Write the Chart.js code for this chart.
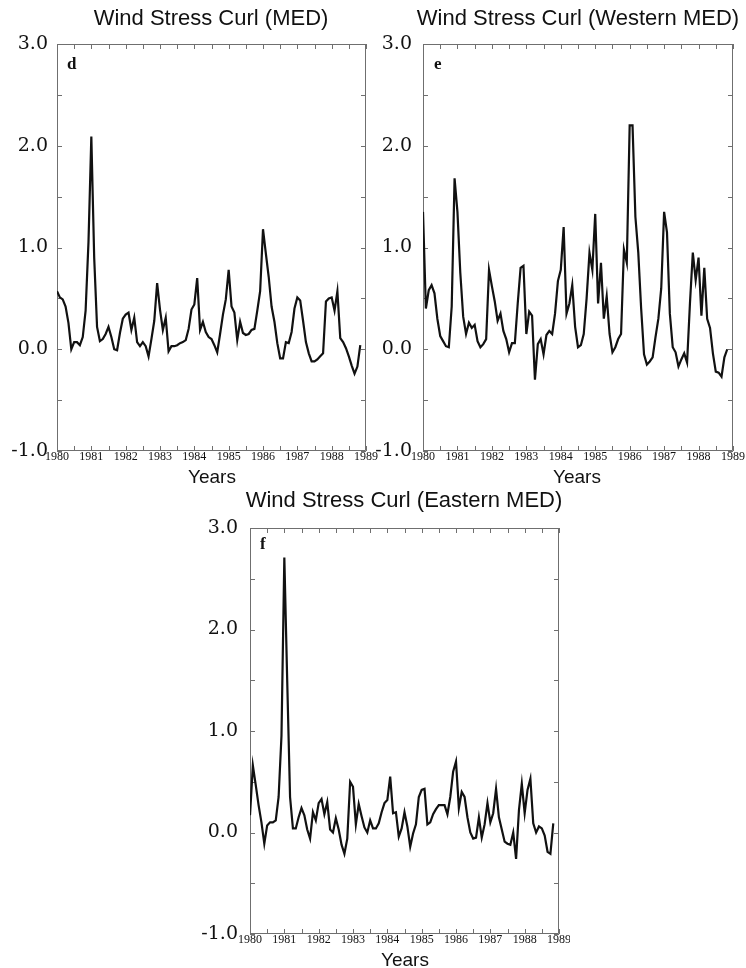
<!DOCTYPE html>
<html>
<head>
<meta charset="utf-8">
<script src="https://cdn.jsdelivr.net/npm/chart.js@4.4.1/dist/chart.umd.min.js"></script>
<style>
  html, body { margin:0; padding:0; background:#fff; }
  body { width:746px; height:968px; position:relative; overflow:hidden; }
  .cv { position:absolute; }
  .title { position:absolute; font-family:"Liberation Sans", Arial, sans-serif; font-size:22px; color:#111; white-space:nowrap; transform:translateX(-50%); line-height:1; }
  .xt { position:absolute; font-family:"Liberation Sans", Arial, sans-serif; font-size:19px; color:#111; white-space:nowrap; transform:translateX(-50%); line-height:1; }
  .lbl { position:absolute; font-family:"Liberation Serif", "Times New Roman", serif; font-weight:bold; font-size:17px; color:#111; line-height:1; }
</style>
</head>
<body>
<canvas id="cd" class="cv" style="left:0px;top:0px;width:380px;height:480px" width="380" height="480"></canvas>
<canvas id="ce" class="cv" style="left:370px;top:0px;width:376px;height:480px" width="376" height="480"></canvas>
<canvas id="cf" class="cv" style="left:190px;top:480px;width:380px;height:488px" width="380" height="488"></canvas>

<div class="title" style="left:211px;top:7px">Wind Stress Curl (MED)</div>
<div class="title" style="left:578px;top:7px">Wind Stress Curl (Western MED)</div>
<div class="title" style="left:404px;top:489px">Wind Stress Curl (Eastern MED)</div>
<div class="xt" style="left:212px;top:467px">Years</div>
<div class="xt" style="left:577px;top:467px">Years</div>
<div class="xt" style="left:405px;top:950px">Years</div>
<div class="lbl" style="left:67px;top:55px">d</div>
<div class="lbl" style="left:434px;top:55px">e</div>
<div class="lbl" style="left:260px;top:535px">f</div>

<script>
// Monthly time axis, Jan 1980 .. Nov 1988
const startYear = 1980;
const nMonths = 107;
const months = Array.from({length: nMonths}, (_, i) => startYear + i / 12);

const yearTicks = [1980, 1981, 1982, 1983, 1984, 1985, 1986, 1987, 1988, 1989];
const valueTicks = [-1.0, 0.0, 1.0, 2.0, 3.0];

// (d) Wind Stress Curl (MED)
const medValues = [
  0.57, 0.51, 0.49, 0.42, 0.26, 0.00, 0.07, 0.07, 0.04, 0.12, 0.38, 1.05,
  2.09, 0.90, 0.22, 0.08, 0.10, 0.15, 0.22, 0.12, 0.00, -0.01, 0.16, 0.30,
  0.34, 0.36, 0.19, 0.31, 0.07, 0.03, 0.07, 0.03, -0.07, 0.10, 0.28, 0.65,
  0.39, 0.19, 0.31, -0.02, 0.03, 0.03, 0.04, 0.06, 0.07, 0.09, 0.20, 0.39,
  0.44, 0.70, 0.19, 0.27, 0.17, 0.12, 0.10, 0.04, -0.03, 0.15, 0.34, 0.49,
  0.78, 0.42, 0.36, 0.09, 0.27, 0.16, 0.14, 0.15, 0.19, 0.20, 0.38, 0.57,
  1.18, 0.94, 0.71, 0.42, 0.27, 0.06, -0.09, -0.09, 0.07, 0.06, 0.17, 0.40,
  0.51, 0.48, 0.28, 0.07, -0.04, -0.12, -0.12, -0.10, -0.07, -0.04, 0.47, 0.50,
  0.51, 0.38, 0.57, 0.11, 0.07, 0.01, -0.07, -0.16, -0.24, -0.17, 0.04
];

// (e) Wind Stress Curl (Western MED)
const westValues = [
  1.35, 0.40, 0.58, 0.63, 0.55, 0.30, 0.13, 0.08, 0.03, 0.02, 0.42, 1.68,
  1.35, 0.75, 0.32, 0.15, 0.26, 0.21, 0.24, 0.08, 0.02, 0.05, 0.10, 0.78,
  0.62, 0.47, 0.28, 0.35, 0.18, 0.10, -0.03, 0.06, 0.06, 0.45, 0.80, 0.82,
  0.15, 0.37, 0.33, -0.30, 0.05, 0.10, -0.05, 0.14, 0.18, 0.15, 0.35, 0.67,
  0.78, 1.20, 0.35, 0.45, 0.63, 0.22, 0.02, 0.04, 0.15, 0.50, 0.95, 0.78,
  1.33, 0.45, 0.85, 0.30, 0.52, 0.15, -0.03, 0.02, 0.10, 0.15, 0.98, 0.85,
  2.20, 2.20, 1.30, 0.95, 0.40, -0.05, -0.15, -0.12, -0.08, 0.12, 0.30, 0.60,
  1.35, 1.15, 0.35, 0.02, -0.03, -0.17, -0.10, -0.04, -0.13, 0.45, 0.95, 0.68,
  0.90, 0.33, 0.80, 0.30, 0.21, -0.04, -0.22, -0.23, -0.27, -0.08, 0.00
];

// (f) Wind Stress Curl (Eastern MED)
const eastValues = [
  0.17, 0.66, 0.47, 0.27, 0.10, -0.11, 0.07, 0.10, 0.10, 0.12, 0.35, 0.95,
  2.71, 1.50, 0.35, 0.04, 0.04, 0.15, 0.24, 0.17, 0.03, -0.06, 0.20, 0.12,
  0.29, 0.33, 0.18, 0.30, 0.03, 0.00, 0.14, 0.03, -0.12, -0.21, -0.06, 0.50,
  0.45, 0.08, 0.28, 0.16, 0.05, 0.00, 0.12, 0.04, 0.04, 0.09, 0.20, 0.29,
  0.32, 0.55, 0.19, 0.20, -0.04, 0.04, 0.20, 0.06, -0.14, -0.01, 0.08, 0.35,
  0.42, 0.43, 0.08, 0.10, 0.18, 0.23, 0.27, 0.27, 0.27, 0.18, 0.35, 0.60,
  0.70, 0.24, 0.40, 0.35, 0.15, 0.00, -0.06, -0.05, 0.15, -0.05, 0.08, 0.29,
  0.10, 0.19, 0.43, 0.15, 0.03, -0.09, -0.11, -0.12, 0.00, -0.26, 0.22, 0.48,
  0.19, 0.42, 0.53, 0.09, 0.00, 0.06, 0.04, -0.03, -0.19, -0.21, 0.09
];

const frameTicks = {
  id: 'frameTicks',
  beforeDatasetsDraw(chart) {
    const {ctx, chartArea: {left, right, top, bottom}, scales: {x, y}} = chart;
    ctx.save();
    ctx.strokeStyle = '#6f6f6f';
    ctx.lineWidth = 1;
    ctx.beginPath();
    ctx.rect(left + 0.5, top + 0.5, right - left - 1, bottom - top - 1);
    ctx.stroke();
    const tl = 5;
    ctx.beginPath();
    x.ticks.forEach(t => {
      const px = Math.round(x.getPixelForValue(t.value)) + 0.5;
      ctx.moveTo(px, bottom); ctx.lineTo(px, bottom - tl);
      ctx.moveTo(px, top); ctx.lineTo(px, top + tl);
    });
    y.ticks.forEach(t => {
      const py = Math.round(y.getPixelForValue(t.value)) + 0.5;
      ctx.moveTo(left, py); ctx.lineTo(left + tl, py);
      ctx.moveTo(right, py); ctx.lineTo(right - tl, py);
    });
    ctx.stroke();
    ctx.restore();
  }
};

function makeChart(id, values, yW, xH, pad, yPad) {
  new Chart(document.getElementById(id), {
    type: 'line',
    data: {
      datasets: [{
        data: months.map((m, i) => ({x: m, y: values[i]})),
        borderColor: '#111',
        borderWidth: 2.2,
        pointRadius: 0,
        tension: 0,
        fill: false
      }]
    },
    options: {
      responsive: false,
      animation: false,
      events: [],
      layout: {padding: pad},
      plugins: {legend: {display: false}, tooltip: {enabled: false}, title: {display: false}},
      scales: {
        x: {
          type: 'linear',
          min: yearTicks[0], max: yearTicks[yearTicks.length - 1],
          grid: {display: false, drawTicks: false},
          border: {display: false},
          ticks: {
            stepSize: 0.5, autoSkip: false, maxRotation: 0, padding: -1,
            color: '#111',
            font: {family: '"Liberation Serif", "Times New Roman", serif', size: 12},
            callback: v => yearTicks.includes(v) ? String(v) : ''
          },
          afterFit: s => { s.height = xH; }
        },
        y: {
          min: valueTicks[0], max: valueTicks[valueTicks.length - 1],
          grid: {display: false, drawTicks: false},
          border: {display: false},
          ticks: {
            stepSize: 0.5, padding: yPad, color: '#111',
            font: {family: '"DejaVu Serif", serif', size: 19},
            callback: v => valueTicks.includes(v) ? v.toFixed(1) : ''
          },
          afterFit: s => { s.width = yW; }
        }
      }
    },
    plugins: [frameTicks]
  });
}

makeChart('cd', medValues, 57, 29, {left: 0, right: 14, top: 44, bottom: 0}, 9);
makeChart('ce', westValues, 53, 29, {left: 0, right: 13, top: 44, bottom: 0}, 11);
makeChart('cf', eastValues, 60, 34, {left: 0, right: 11, top: 48, bottom: 0}, 12);
</script>
</body>
</html>
